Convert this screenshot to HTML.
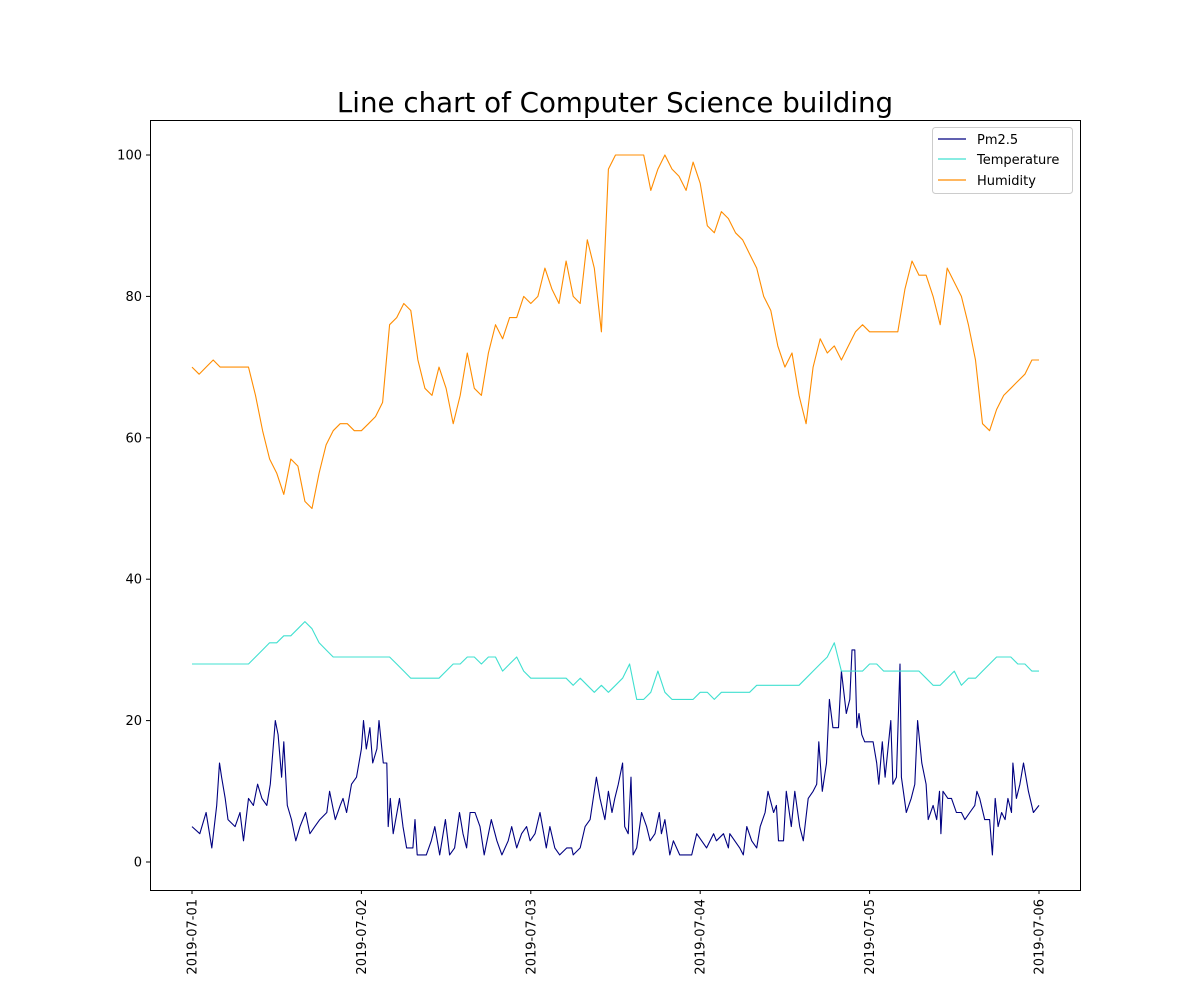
<!DOCTYPE html>
<html><head><meta charset="utf-8"><style>
body{margin:0;background:#fff;}
svg{display:block;font-family:"DejaVu Sans","Liberation Sans",sans-serif;}
</style></head><body>
<svg id="chart" width="1200" height="1000" viewBox="0 0 1200 1000" xmlns="http://www.w3.org/2000/svg">
<rect width="1200" height="1000" fill="#fff"/>
<text x="615" y="112" text-anchor="middle" font-size="27.7" fill="#000">Line chart of Computer Science building</text>
<g id="plot"></g>
<rect x="150.5" y="120.5" width="930" height="770" fill="none" stroke="#000" stroke-width="1"/>
<g>
<rect x="932.5" y="127.5" width="140" height="66" rx="3" fill="#fff" fill-opacity="0.8" stroke="#ccc"/>
<line x1="938" y1="139" x2="966" y2="139" stroke="#000080" stroke-width="1.2"/>
<text x="977" y="144" font-size="13">Pm2.5</text>
<line x1="938" y1="159" x2="966" y2="159" stroke="#40e0d0" stroke-width="1.2"/>
<text x="977" y="164" font-size="13">Temperature</text>
<line x1="938" y1="180" x2="966" y2="180" stroke="#ff8c00" stroke-width="1.2"/>
<text x="977" y="185" font-size="13">Humidity</text>
</g>
</svg>
<script>
const xTickLabels = ["2019-07-01","2019-07-02","2019-07-03","2019-07-04","2019-07-05","2019-07-06"];
const yTicks = [0,20,40,60,80,100];
const humidity = [70,69,70,71,70,70,70,70,70,66,61,57,55,52,57,56,51,50,55,59,61,62,62,61,61,62,63,65,76,77,79,78,71,67,66,70,67,62,66,72,67,66,72,76,74,77,77,80,79,80,84,81,79,85,80,79,88,84,75,98,100,100,100,100,100,95,98,100,98,97,95,99,96,90,89,92,91,89,88,86,84,80,78,73,70,72,66,62,70,74,72,73,71,73,75,76,75,75,75,75,75,81,85,83,83,80,76,84,82,80,76,71,62,61,64,66,67,68,69,71,71];
const temperature = [28,28,28,28,28,28,28,28,28,29,30,31,31,32,32,33,34,33,31,30,29,29,29,29,29,29,29,29,29,28,27,26,26,26,26,26,27,28,28,29,29,28,29,29,27,28,29,27,26,26,26,26,26,26,25,26,25,24,25,24,25,26,28,23,23,24,27,24,23,23,23,23,24,24,23,24,24,24,24,24,25,25,25,25,25,25,25,26,27,28,29,31,27,27,27,27,28,28,27,27,27,27,27,27,26,25,25,26,27,25,26,26,27,28,29,29,29,28,28,27,27];
const pmTimes = [0,1.1,2.0,2.8,3.5,3.9,4.2,4.7,5.1,6.1,6.8,7.3,8.0,8.7,9.3,9.9,10.6,11.1,11.8,12.2,12.7,13.0,13.5,14.1,14.7,15.3,16.1,16.7,17.4,18.1,19.1,19.5,20.3,21.0,21.4,21.9,22.6,23.3,24.0,24.3,24.7,25.2,25.6,26.2,26.5,27.1,27.6,27.8,28.1,28.5,29.4,29.9,30.4,31.3,31.6,31.9,32.8,33.2,33.9,34.4,35.1,35.9,36.5,37.2,37.9,38.4,38.9,39.4,40.1,40.8,41.4,42.4,43.2,43.9,44.8,45.3,46.0,46.7,47.4,47.9,48.6,49.3,50.2,50.7,51.4,52.1,53.1,53.8,54.0,55.0,55.7,56.4,57.3,
57.8,58.5,59.0,59.5,59.9,60.4,61.0,61.3,61.8,62.2,62.5,63.0,63.7,64.4,64.9,65.6,66.2,66.5,67.0,67.7,68.2,69.1,70.8,71.5,72.9,73.9,74.3,75.3,76.0,76.2,77.6,78.1,78.6,79.3,80.0,80.5,81.2,81.6,82.4,82.8,83.1,83.8,84.2,84.9,85.4,86.1,86.6,87.3,88.0,88.5,88.8,89.3,89.9,90.3,90.8,91.6,92.0,92.7,93.2,93.5,93.9,94.2,94.5,94.9,95.3,96.5,97.0,97.3,97.8,98.2,99.0,99.3,99.8,100.3,100.5,101.2,101.9,102.4,102.8,103.4,104.0,104.3,105.0,105.5,105.9,106.1,106.4,107.1,107.6,108.3,109.0,109.5,110.2,110.9,111.2,111.6,112.3,113.0,113.4,113.8,114.2,114.7,115.2,115.6,116.1,116.3,116.8,117.3,117.8,118.5,119.2,120];
const pm25 = [5,4,7,2,8,14,12,9,6,5,7,3,9,8,11,9,8,11,20,18,12,17,8,6,3,5,7,4,5,6,7,10,6,8,9,7,11,12,16,20,16,19,14,16,20,14,14,5,9,4,9,5,2,2,6,1,1,1,3,5,1,6,1,2,7,4,2,7,7,5,1,6,3,1,3,5,2,4,5,3,4,7,2,5,2,1,2,2,1,2,5,6,12,
9,6,10,7,9,11,14,5,4,12,1,2,7,5,3,4,7,4,6,1,3,1,1,4,2,4,3,4,2,4,2,1,5,3,2,5,7,10,7,8,3,3,10,5,10,5,3,9,10,11,17,10,14,23,19,19,27,21,23,30,30,19,21,18,17,17,14,11,17,12,20,11,12,28,12,7,9,11,20,14,11,6,8,6,10,4,10,9,9,7,7,6,7,8,10,9,6,6,1,9,5,7,6,9,7,14,9,11,14,10,7,8];

const X0 = 192, PX_PER_HOUR = (1039 - 192) / 120;
const xScale = h => X0 + h * PX_PER_HOUR;
const yScale = v => 862 - v * (862 - 155) / 100;
const NS = "http://www.w3.org/2000/svg";
const plot = document.getElementById('plot');
function mk(tag, attrs){ const e = document.createElementNS(NS, tag); for (const k in attrs) e.setAttribute(k, attrs[k]); return e; }

yTicks.forEach(v => {
  const y = yScale(v);
  const t = mk('line', {x1:146, x2:150, y1:y, y2:y, stroke:'#000'});
  
  
  plot.appendChild(t);
  const l = mk('text', {x:142, y:y+4.5, 'text-anchor':'end', 'font-size':13});
  
  
  l.textContent = v;
  plot.appendChild(l);
});
xTickLabels.forEach((lab, i) => {
  const x = xScale(i * 24);
  const t = mk('line', {x1:x, x2:x, y1:890, y2:894, stroke:'#000'});
  
  
  plot.appendChild(t);
  const l = mk('text', {x:0, y:0, 'text-anchor':'end', 'font-size':13, transform:`translate(${x+4.5},899) rotate(-90)`});
  
  
  l.textContent = lab;
  plot.appendChild(l);
});
function series(times, vals, color, name){
  const d = vals.map((v,i) => (i ? 'L' : 'M') + xScale(times ? times[i] : i).toFixed(1) + ',' + yScale(v).toFixed(1)).join('');
  const p = mk('path', {d:d, fill:'none', stroke:color, 'stroke-width':1.1, 'stroke-linejoin':'round'});
  
  
  plot.appendChild(p);
}
series(pmTimes, pm25, '#000080', 'pm25-line');
series(null, temperature, '#40e0d0', 'temperature-line');
series(null, humidity, '#ff8c00', 'humidity-line');
</script>
</body></html>
